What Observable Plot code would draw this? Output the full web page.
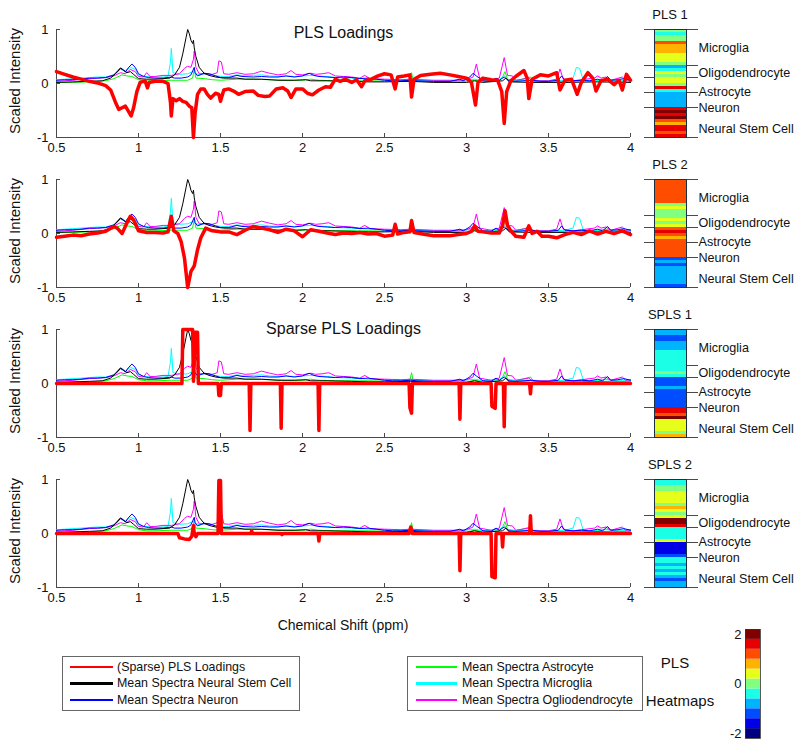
<!DOCTYPE html>
<html><head><meta charset="utf-8">
<script src="https://cdn.jsdelivr.net/npm/d3@7"></script>
<script src="https://cdn.jsdelivr.net/npm/@observablehq/plot@0.6"></script>
<style>
body{margin:0;background:#fff;font-family:"Liberation Sans",Arial,Helvetica,sans-serif;color:#111}
#root{position:relative;width:800px;height:746px;overflow:hidden;background:#fff}
.t{position:absolute;white-space:nowrap;line-height:1;transform:translate(-50%,-50%)}
.box{position:absolute;border:1px solid #666;background:#fff;box-sizing:border-box}
</style></head><body><div id="root"></div>
<script>
// ---------------- data ----------------
const xTicks = [0.5, 1, 1.5, 2, 2.5, 3, 3.5, 4];
const yTicks = [-1, 0, 1];
const panelTitles = ["PLS Loadings", "", "Sparse PLS Loadings", ""];
const yLabel = "Scaled Intensity";
const xLabel = "Chemical Shift (ppm)";
const heatTitles = ["PLS 1", "PLS 2", "SPLS 1", "SPLS 2"];
const groupNames = ["Microglia", "Oligodendrocyte", "Astrocyte", "Neuron", "Neural Stem Cell"];
const groupSizes = [12, 4, 5, 5, 10];
const groupLabelRows = [6, 14.4, 20.7, 26.2, 33];
const colorbarTicks = [-2, 0, 2];
const colorLevels = [-2, -1.6, -1.2, -0.8, -0.4, 0, 0.4, 0.8, 1.2, 1.6, 2];
const jetColors = ["#000080", "#0000e6", "#004dff", "#00b3ff", "#1affe6", "#80ff80", "#e6ff1a", "#ffb300", "#ff4d00", "#e60000", "#800000"];
const legendLeft = ["(Sparse) PLS Loadings", "Mean Spectra Neural Stem Cell", "Mean Spectra Neuron"];
const legendRight = ["Mean Spectra Astrocyte", "Mean Spectra Microglia", "Mean Spectra Ogliodendrocyte"];

// mean spectra (ppm, scaled intensity)
const meanNSC = [[0.50,0.02],[0.60,0.03],[0.70,0.04],[0.78,0.05],[0.83,0.10],[0.86,0.18],[0.89,0.28],[0.91,0.24],[0.93,0.20],[0.95,0.22],[0.97,0.17],[1.00,0.09],[1.05,0.08],[1.10,0.08],[1.15,0.09],[1.19,0.10],[1.22,0.16],[1.25,0.30],[1.27,0.55],[1.29,0.85],[1.30,1.00],[1.31,0.92],[1.32,0.80],[1.33,0.74],[1.335,0.80],[1.34,0.66],[1.35,0.50],[1.37,0.30],[1.40,0.19],[1.43,0.15],[1.47,0.12],[1.52,0.10],[1.60,0.10],[1.65,0.08],[1.75,0.08],[1.85,0.06],[1.95,0.06],[2.02,0.07],[2.05,0.05],[2.15,0.05],[2.30,0.04],[2.40,0.03],[2.50,0.03],[2.66,0.04],[2.80,0.02],[3.00,0.02],[3.05,0.05],[3.10,0.02],[3.22,0.05],[3.24,0.10],[3.26,0.03],[3.40,0.02],[3.60,0.02],[3.80,0.03],[4.00,0.02]];
const meanNeuron = [[0.50,0.06],[0.55,0.07],[0.60,0.07],[0.65,0.08],[0.70,0.10],[0.75,0.10],[0.80,0.11],[0.85,0.16],[0.89,0.29],[0.91,0.25],[0.92,0.21],[0.94,0.30],[0.96,0.36],[0.98,0.30],[1.00,0.18],[1.03,0.13],[1.06,0.11],[1.10,0.10],[1.15,0.10],[1.20,0.12],[1.22,0.10],[1.26,0.10],[1.30,0.12],[1.32,0.16],[1.34,0.30],[1.345,0.20],[1.36,0.14],[1.40,0.19],[1.43,0.18],[1.47,0.14],[1.50,0.11],[1.55,0.11],[1.60,0.15],[1.63,0.13],[1.70,0.12],[1.75,0.13],[1.80,0.12],[1.85,0.12],[1.90,0.14],[1.95,0.12],[2.00,0.14],[2.04,0.19],[2.07,0.15],[2.10,0.13],[2.15,0.12],[2.20,0.11],[2.25,0.12],[2.30,0.11],[2.35,0.09],[2.40,0.10],[2.45,0.08],[2.50,0.06],[2.55,0.05],[2.60,0.05],[2.66,0.06],[2.70,0.05],[2.80,0.04],[2.90,0.04],[2.96,0.08],[2.98,0.05],[3.02,0.12],[3.04,0.19],[3.06,0.14],[3.10,0.05],[3.15,0.04],[3.18,0.10],[3.20,0.06],[3.23,0.12],[3.26,0.05],[3.30,0.04],[3.40,0.06],[3.45,0.04],[3.50,0.04],[3.56,0.06],[3.58,0.14],[3.60,0.06],[3.65,0.05],[3.70,0.06],[3.75,0.05],[3.80,0.08],[3.83,0.05],[3.86,0.13],[3.88,0.06],[3.92,0.07],[3.96,0.09],[4.00,0.06]];
const meanAstrocyte = [[0.50,0.02],[0.60,0.02],[0.70,0.03],[0.80,0.05],[0.85,0.09],[0.90,0.16],[0.93,0.14],[0.96,0.13],[1.00,0.07],[1.05,0.05],[1.10,0.05],[1.20,0.06],[1.30,0.06],[1.33,0.10],[1.34,0.27],[1.35,0.10],[1.40,0.09],[1.45,0.07],[1.50,0.06],[1.60,0.08],[1.70,0.08],[1.80,0.07],[1.90,0.06],[2.00,0.06],[2.05,0.08],[2.10,0.06],[2.20,0.05],[2.40,0.05],[2.55,0.04],[2.57,0.08],[2.60,0.04],[2.655,0.06],[2.665,0.20],[2.675,0.05],[2.80,0.04],[3.00,0.03],[3.05,0.06],[3.10,0.04],[3.20,0.05],[3.22,0.12],[3.235,0.22],[3.25,0.08],[3.30,0.05],[3.39,0.12],[3.41,0.04],[3.50,0.04],[3.60,0.04],[3.70,0.05],[3.80,0.05],[3.85,0.08],[3.90,0.05],[4.00,0.04]];
const meanMicroglia = [[0.50,0.07],[0.55,0.08],[0.60,0.09],[0.65,0.10],[0.70,0.11],[0.75,0.12],[0.80,0.12],[0.85,0.16],[0.89,0.26],[0.92,0.24],[0.95,0.30],[0.98,0.26],[1.00,0.16],[1.05,0.13],[1.10,0.12],[1.15,0.12],[1.18,0.13],[1.195,0.40],[1.20,0.65],[1.205,0.45],[1.21,0.20],[1.25,0.17],[1.30,0.18],[1.33,0.22],[1.34,0.20],[1.37,0.16],[1.40,0.18],[1.45,0.16],[1.50,0.13],[1.55,0.13],[1.60,0.16],[1.65,0.14],[1.70,0.15],[1.75,0.16],[1.80,0.14],[1.85,0.13],[1.90,0.14],[1.95,0.13],[2.00,0.14],[2.05,0.15],[2.10,0.14],[2.15,0.13],[2.20,0.11],[2.30,0.10],[2.40,0.08],[2.50,0.07],[2.60,0.06],[2.66,0.08],[2.70,0.06],[2.80,0.05],[2.95,0.05],[3.05,0.08],[3.10,0.05],[3.20,0.07],[3.23,0.15],[3.26,0.06],[3.40,0.06],[3.50,0.05],[3.60,0.06],[3.65,0.10],[3.67,0.30],[3.69,0.28],[3.71,0.08],[3.75,0.05],[3.80,0.06],[3.85,0.07],[3.90,0.06],[4.00,0.06]];
const meanOligo = [[0.50,0.04],[0.60,0.06],[0.70,0.09],[0.75,0.10],[0.80,0.11],[0.85,0.14],[0.89,0.20],[0.92,0.18],[0.95,0.26],[0.98,0.22],[1.00,0.13],[1.03,0.12],[1.05,0.20],[1.07,0.13],[1.10,0.13],[1.15,0.15],[1.20,0.15],[1.25,0.18],[1.28,0.28],[1.30,0.32],[1.32,0.30],[1.335,0.45],[1.34,0.60],[1.35,0.30],[1.37,0.18],[1.40,0.18],[1.45,0.17],[1.48,0.20],[1.49,0.42],[1.505,0.40],[1.52,0.18],[1.55,0.17],[1.60,0.20],[1.65,0.17],[1.70,0.18],[1.75,0.23],[1.80,0.19],[1.85,0.16],[1.90,0.18],[1.93,0.24],[1.96,0.17],[2.00,0.16],[2.05,0.19],[2.08,0.17],[2.12,0.18],[2.16,0.20],[2.20,0.14],[2.25,0.13],[2.30,0.12],[2.35,0.10],[2.38,0.15],[2.41,0.09],[2.50,0.08],[2.60,0.07],[2.66,0.08],[2.80,0.06],[2.95,0.06],[3.00,0.07],[3.04,0.12],[3.06,0.36],[3.08,0.10],[3.15,0.06],[3.20,0.10],[3.23,0.48],[3.25,0.15],[3.28,0.14],[3.30,0.06],[3.38,0.10],[3.40,0.05],[3.50,0.05],[3.55,0.08],[3.57,0.27],[3.59,0.08],[3.65,0.05],[3.70,0.07],[3.78,0.10],[3.80,0.14],[3.82,0.10],[3.85,0.12],[3.88,0.06],[3.95,0.12],[3.97,0.06],[4.00,0.07]];

// loadings
const loadPLS1 = [[0.50,0.22],[0.55,0.17],[0.60,0.12],[0.65,0.08],[0.70,0.04],[0.75,0.01],[0.80,-0.04],[0.83,-0.12],[0.86,-0.35],[0.88,-0.48],[0.90,-0.45],[0.92,-0.42],[0.94,-0.52],[0.955,-0.60],[0.97,-0.45],[0.99,-0.15],[1.01,0.02],[1.04,0.05],[1.055,-0.08],[1.065,0.02],[1.10,0.04],[1.15,0.04],[1.18,0.00],[1.195,-0.35],[1.20,-0.60],[1.21,-0.28],[1.23,-0.32],[1.25,-0.28],[1.27,-0.33],[1.29,-0.35],[1.31,-0.42],[1.325,-0.45],[1.335,-1.00],[1.345,-0.55],[1.36,-0.20],[1.38,-0.10],[1.40,-0.10],[1.42,-0.20],[1.44,-0.27],[1.47,-0.18],[1.49,-0.20],[1.50,-0.33],[1.52,-0.12],[1.55,-0.10],[1.58,-0.14],[1.61,-0.20],[1.65,-0.15],[1.70,-0.14],[1.73,-0.22],[1.77,-0.24],[1.80,-0.23],[1.84,-0.10],[1.88,-0.08],[1.91,-0.14],[1.93,-0.26],[1.96,-0.10],[2.00,-0.10],[2.03,-0.18],[2.06,-0.21],[2.10,-0.12],[2.14,-0.06],[2.17,-0.07],[2.20,0.08],[2.23,0.04],[2.26,0.08],[2.30,0.02],[2.33,0.07],[2.36,-0.06],[2.38,0.05],[2.42,0.08],[2.46,0.14],[2.50,0.18],[2.54,0.16],[2.565,-0.10],[2.58,0.12],[2.62,0.14],[2.655,0.16],[2.665,-0.25],[2.68,0.08],[2.72,0.15],[2.78,0.17],[2.84,0.19],[2.90,0.16],[2.95,0.13],[3.00,0.10],[3.03,0.02],[3.055,-0.40],[3.07,0.02],[3.10,0.10],[3.15,0.07],[3.19,0.06],[3.215,-0.15],[3.23,-0.74],[3.245,-0.15],[3.27,0.05],[3.30,0.13],[3.35,0.24],[3.37,0.10],[3.38,-0.28],[3.40,0.08],[3.45,0.16],[3.50,0.14],[3.55,0.20],[3.57,-0.12],[3.60,0.06],[3.64,0.08],[3.675,-0.20],[3.70,0.02],[3.74,0.20],[3.77,0.10],[3.79,-0.14],[3.82,0.05],[3.86,0.08],[3.90,-0.02],[3.93,0.06],[3.95,-0.12],[3.975,0.17],[4.00,0.06]];
const loadPLS2 = [[0.50,-0.07],[0.55,-0.05],[0.60,-0.03],[0.65,-0.04],[0.70,-0.01],[0.75,0.01],[0.80,0.04],[0.85,0.13],[0.87,0.10],[0.90,0.00],[0.93,0.20],[0.95,0.32],[0.97,0.25],[1.00,0.05],[1.05,0.02],[1.10,0.02],[1.15,0.01],[1.18,0.03],[1.20,0.32],[1.215,0.05],[1.24,0.00],[1.26,-0.15],[1.28,-0.45],[1.30,-1.00],[1.32,-0.70],[1.34,-0.60],[1.36,-0.30],[1.38,-0.08],[1.41,0.10],[1.45,0.05],[1.50,0.03],[1.55,0.03],[1.60,-0.02],[1.65,0.06],[1.70,0.13],[1.75,0.10],[1.80,0.07],[1.85,0.02],[1.90,0.08],[1.95,0.05],[2.00,-0.06],[2.05,0.07],[2.10,0.04],[2.15,0.01],[2.20,-0.02],[2.25,0.01],[2.30,0.00],[2.35,0.02],[2.40,-0.01],[2.45,0.00],[2.50,-0.05],[2.55,-0.03],[2.565,0.17],[2.58,-0.01],[2.62,0.02],[2.655,0.03],[2.665,0.24],[2.68,0.02],[2.75,-0.02],[2.80,-0.04],[2.90,-0.04],[2.95,-0.02],[3.00,0.00],[3.03,0.04],[3.05,0.14],[3.07,0.04],[3.10,0.03],[3.15,0.01],[3.20,0.01],[3.22,0.15],[3.235,0.42],[3.25,0.15],[3.27,0.05],[3.30,-0.05],[3.35,-0.07],[3.38,0.14],[3.40,0.00],[3.43,0.04],[3.46,-0.05],[3.50,-0.05],[3.55,-0.08],[3.60,-0.02],[3.65,0.02],[3.70,-0.02],[3.75,0.05],[3.80,-0.01],[3.85,0.04],[3.90,0.00],[3.95,0.05],[4.00,-0.02]];
const loadSPLS1 = [[0.50,0],[1.265,0],[1.27,1.0],[1.33,1.0],[1.335,0.04],[1.345,0.95],[1.36,0.95],[1.365,0],[1.485,0],[1.49,-0.22],[1.50,-0.22],[1.505,0],[1.675,0],[1.68,-0.87],[1.685,0],[1.865,0],[1.87,-0.83],[1.875,0],[2.095,0],[2.10,-0.87],[2.105,0],[2.65,0],[2.655,-0.45],[2.665,-0.55],[2.67,0],[2.955,0],[2.96,-0.66],[2.965,0],[3.15,0],[3.155,-0.42],[3.175,-0.46],[3.18,0],[3.225,0],[3.23,-0.80],[3.235,0],[3.385,0],[3.39,-0.19],[3.395,0],[4.00,0]];
const loadSPLS2 = [[0.50,0],[1.24,0],[1.25,-0.08],[1.28,-0.10],[1.31,-0.11],[1.325,-0.05],[1.335,0.15],[1.34,0.0],[1.35,-0.06],[1.36,0],[1.485,0],[1.49,0.98],[1.50,0.98],[1.505,0],[1.685,0],[1.69,0.05],[1.695,0],[1.87,0],[1.875,-0.02],[1.88,0],[2.095,0],[2.10,-0.14],[2.105,0],[2.65,0],[2.66,0.12],[2.67,0],[2.955,0],[2.96,-0.69],[2.965,0],[3.15,0],[3.155,-0.80],[3.175,-0.82],[3.18,0],[3.215,0],[3.22,-0.25],[3.225,0],[3.385,0],[3.39,0.33],[3.395,0],[4.00,0]];

// heatmap values (rows: Microglia 12, Oligodendrocyte 4, Astrocyte 5, Neuron 5, Neural Stem Cell 10)
const heatPLS1 = [0,-0.4,0,0,1.2,0.8,0.8,0.8,0.4,0.4,0.4,0, -0.8,-0.4,0.4,0, 0.4,0.4,0,1.6,-0.4, -0.8,-0.8,-0.8,-0.8,-0.8, 1.6,2,1.6,2,1.2,0.8,1.6,1.6,1.2,1.6];
const heatPLS2 = [1.2,1.2,1.2,1.2,1.2,1.2,1.2,1.2,0,0.4,0,0, 0,0.4,0,0.4, 1.2,1.6,1.2,0.8,1.2, 1.2,1.2,1.2,1.2,1.2, -1.2,-0.8,-1.2,-0.8,-0.8,-0.8,-0.8,-0.8,-0.8,-1.2];
const heatSPLS1 = [-0.8,-0.8,-1.2,-1.2,-0.8,-0.8,-0.8,-0.4,-0.4,-0.4,-0.4,-0.4, -0.4,-0.4,0,-0.4, -1.2,-1.2,-1.2,-0.8,-1.2, -1.2,-1.2,-1.2,-1.2,-1.2, 1.6,1.6,1.2,2,0.4,0.4,0.4,0.4,0,0.8];
const heatSPLS2 = [-0.4,-0.4,0,0,0.4,0.4,0.4,0.4,0,0.8,0.4,0, 0.4,2,2,1.6, -0.4,-0.4,-0.4,-0.4,0.4, -1.6,-1.6,-1.6,-1.6,-1.2, -0.4,-0.4,-0.8,-0.4,-0.8,-0.4,-0.8,-1.2,-0.8,-0.8];

// ---------------- drawing ----------------
const root = document.getElementById("root");
const axisColor = "#4a4a4a";
const textColor = "#111";
const FONT = "'Liberation Sans', Arial, Helvetica, sans-serif";
const svgStyle = {background: "transparent", overflow: "visible", fontFamily: FONT};

const spectra = [
  {data: meanAstrocyte, color: "#00ff00"},
  {data: meanMicroglia, color: "#00ffff"},
  {data: meanOligo, color: "#ff00ff"},
  {data: meanNeuron, color: "#0000ff"},
  {data: meanNSC, color: "#000000"}
];
const loadings = [loadPLS1, loadPLS2, loadSPLS1, loadSPLS2];
const heats = [heatPLS1, heatPLS2, heatSPLS1, heatSPLS2];
const titleDy = [-2.5, 0, -6.5, 0];

function place(el, left, top) {
  el.style.position = "absolute"; el.style.left = left + "px"; el.style.top = top + "px";
  root.appendChild(el);
}
function text(str, cx, cy, size, rotate) {
  const d = document.createElement("div");
  d.className = "t"; d.textContent = str;
  d.style.left = cx + "px"; d.style.top = cy + "px"; d.style.fontSize = size + "px";
  if (rotate) d.style.transform = `translate(-50%,-50%) rotate(${rotate}deg)`;
  root.appendChild(d);
  return d;
}

function linePanel(k) {
  const marks = [
    Plot.ruleX([0.5], {stroke: axisColor}),
    Plot.ruleY([-1], {stroke: axisColor}),
    Plot.axisX({ticks: xTicks, tickSize: -4, tickPadding: 9, tickFormat: d => String(d), label: null, stroke: axisColor, fill: textColor, fontSize: 13}),
    Plot.axisY({ticks: yTicks, tickSize: -4, tickPadding: 12, tickFormat: d => String(d), label: null, stroke: axisColor, fill: textColor, fontSize: 13}),
    ...spectra.map(s => Plot.line(s.data, {stroke: s.color, strokeWidth: 1})),
    Plot.line(loadings[k], {stroke: "#ff0000", strokeWidth: 3.5, strokeLinejoin: "round", strokeLinecap: "round"})
  ];
  if (panelTitles[k]) marks.push(Plot.text([panelTitles[k]], {text: d => d, frameAnchor: "top", dy: titleDy[k], fontSize: 16, fill: textColor}));
  const svg = Plot.plot({
    width: 640, height: 165,
    marginLeft: 56, marginRight: 10, marginTop: 29, marginBottom: 28,
    x: {domain: [0.5, 4], label: null},
    y: {domain: [-1, 1], label: null},
    style: svgStyle,
    marks
  });
  place(svg, 0, 150 * k);
  text(yLabel, 14, 81 + 150 * k, 15, -90);
}

const thresholds = d3.pairs(colorLevels).map(([a, b]) => (a + b) / 2);
const colorScale = {type: "threshold", domain: thresholds, range: jetColors};
const bounds = Array.from(d3.cumsum([0, ...groupSizes]));
const nRows = d3.sum(groupSizes);

function heatPanel(k) {
  const rows = heats[k].map((v, i) => ({y1: i, y2: i + 1, v}));
  const svg = Plot.plot({
    width: 240, height: 150,
    marginLeft: 94, marginRight: 114, marginTop: 29, marginBottom: 13,
    y: {domain: [0, nRows], reverse: true, label: null},
    color: colorScale,
    style: svgStyle,
    marks: [
      Plot.rect(rows, {y1: "y1", y2: "y2", fill: "v"}),
      Plot.frame({stroke: "#1d2f45", strokeWidth: 1}),
      Plot.axisY({anchor: "left", ticks: bounds, tickSize: 10, tickFormat: () => "", label: null, stroke: axisColor}),
      Plot.axisY({anchor: "right", ticks: bounds, tickSize: 11, tickFormat: () => "", label: null, stroke: axisColor}),
      Plot.axisY({anchor: "right", ticks: groupLabelRows, tickSize: 0, tickPadding: 12, label: null,
        tickFormat: d => groupNames[groupLabelRows.indexOf(d)], fontSize: 12.6, fill: textColor})
    ]
  });
  place(svg, 560, 150 * k);
  text(heatTitles[k], 670, 13.5 + 150 * k, 13);
}

for (let k = 0; k < 4; k++) { linePanel(k); heatPanel(k); }

// x label
text(xLabel, 343, 625, 14);

// legends
function legendBox(left, top, width, items, colors, lineX0, lineX1, textX) {
  const b = document.createElement("div");
  b.className = "box";
  Object.assign(b.style, {left: left + "px", top: top + "px", width: width + "px", height: "55px"});
  root.appendChild(b);
  items.forEach((s, i) => {
    const cy = 667 + 16.5 * i;
    const ln = document.createElement("div");
    Object.assign(ln.style, {position: "absolute", left: lineX0 + "px", top: (cy - 1.25) + "px", width: (lineX1 - lineX0) + "px", height: "2.5px", background: colors[i]});
    root.appendChild(ln);
    const t = document.createElement("div");
    t.textContent = s;
    Object.assign(t.style, {position: "absolute", left: textX + "px", top: (cy - 7.5) + "px", fontSize: "12.4px", lineHeight: "15px", whiteSpace: "nowrap", color: textColor});
    root.appendChild(t);
  });
}
legendBox(62, 656, 238, legendLeft, ["#ff0000", "#000000", "#0000ff"], 70, 113, 117);
legendBox(407, 656, 236, legendRight, ["#00ff00", "#00ffff", "#ff00ff"], 416, 457, 462);

text("PLS", 675, 662, 15);
text("Heatmaps", 680, 700, 15);

// colorbar
const bands = colorLevels.map(v => ({y1: v - 0.2, y2: v + 0.2, v}));
const cb = Plot.plot({
  width: 100, height: 136,
  marginLeft: 45, marginRight: 40, marginTop: 19, marginBottom: 8,
  y: {domain: [-2.2, 2.2], label: null},
  color: colorScale,
  style: svgStyle,
  marks: [
    Plot.rect(bands, {y1: "y1", y2: "y2", fill: "v"}),
    Plot.frame({stroke: "#333", strokeWidth: 0.8}),
    Plot.axisY({anchor: "left", ticks: colorbarTicks, tickSize: 0, tickPadding: 4, tickFormat: d => String(d), label: null, fontSize: 13, fill: textColor})
  ]
});
place(cb, 700, 610);
</script></body></html>
